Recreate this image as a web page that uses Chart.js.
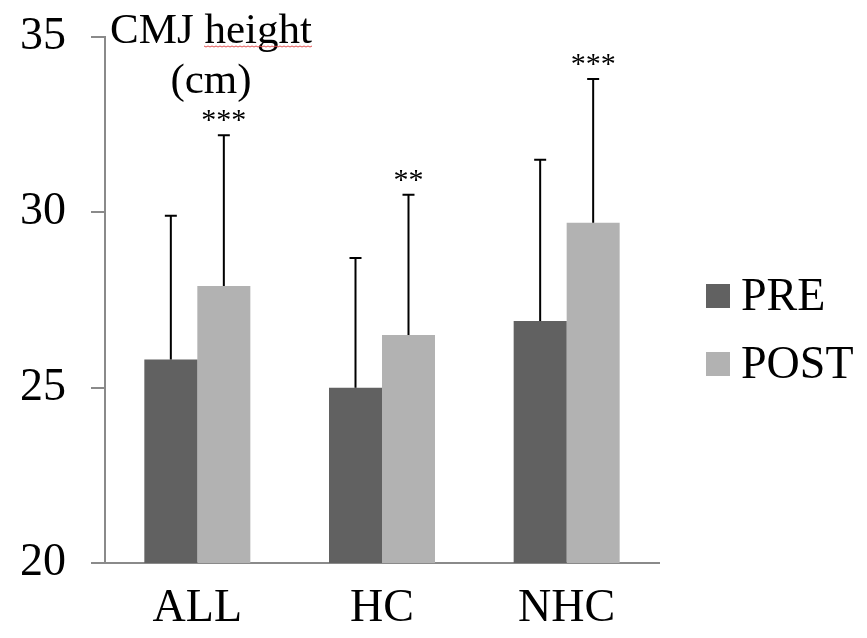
<!DOCTYPE html>
<html>
<head>
<meta charset="utf-8">
<title>CMJ height</title>
<script src="https://cdn.jsdelivr.net/npm/chart.js@4.4.1/dist/chart.umd.min.js"></script>
<style>
  html, body { margin: 0; padding: 0; background: #fff; }
  #wrap { width: 867px; height: 638px; position: relative; }
</style>
</head>
<body>
<div id="wrap"><canvas id="chart"></canvas></div>
<script>
/* ---------- data ---------- */
const groups = ["ALL", "HC", "NHC"];
const seriesNames = ["PRE", "POST"];
const preMean = [25.8, 25.0, 26.9];
const postMean = [27.9, 26.5, 29.7];
const preSD = [4.1, 3.7, 4.6];
const postSD = [4.3, 4.0, 4.1];
const postStars = ["***", "**", "***"];
const yTicks = [20, 25, 30, 35];

const FONT = '"Liberation Serif", "Times New Roman", serif';
const PRE_COLOR = "#616161";
const POST_COLOR = "#b2b2b2";
const AXIS_COLOR = "#8a8a8a";

/* ---------- plugin: error bars, stars, title, legend ---------- */
const extras = {
    id: "extras",
    afterDatasetsDraw(chart) {
        const ctx = chart.ctx;
        const y = chart.scales.y;
        const sds = [preSD, postSD];

        ctx.save();
        ctx.strokeStyle = "#000";
        ctx.lineWidth = 2;
        chart.data.datasets.forEach((ds, di) => {
            const meta = chart.getDatasetMeta(di);
            meta.data.forEach((bar, i) => {
                const top = y.getPixelForValue(ds.data[i] + sds[di][i]);
                ctx.beginPath();
                ctx.moveTo(bar.x, bar.y);
                ctx.lineTo(bar.x, top);
                ctx.moveTo(bar.x - 6, top);
                ctx.lineTo(bar.x + 6, top);
                ctx.stroke();

                // significance stars above POST bars
                if (di === 1) {
                    ctx.fillStyle = "#000";
                    ctx.font = "30px " + FONT;
                    ctx.textAlign = "center";
                    ctx.textBaseline = "middle";
                    ctx.fillText(postStars[i], bar.x, top - 14);
                }
            });
        });
        ctx.restore();
    },
    afterDraw(chart) {
        const ctx = chart.ctx;
        ctx.save();

        // axis title, top left
        ctx.fillStyle = "#000";
        ctx.font = "43px " + FONT;
        ctx.textAlign = "center";
        ctx.textBaseline = "alphabetic";
        ctx.fillText("CMJ height", 211, 43);
        ctx.fillText("(cm)", 211, 93);

        // red spell-check squiggle under "height"
        ctx.strokeStyle = "#e05050";
        ctx.lineWidth = 1;
        ctx.beginPath();
        for (let x = 204; x <= 312; x += 2) {
            const yy = 46 + ((x / 2) % 2 === 0 ? 0 : 1);
            if (x === 204) ctx.moveTo(x, yy); else ctx.lineTo(x, yy);
        }
        ctx.stroke();

        // legend on the right
        const colors = [PRE_COLOR, POST_COLOR];
        const rows = [296, 364];
        ctx.font = "46px " + FONT;
        ctx.textAlign = "left";
        ctx.textBaseline = "middle";
        seriesNames.forEach((name, i) => {
            ctx.fillStyle = colors[i];
            ctx.fillRect(706, rows[i] - 12, 24, 24);
            ctx.fillStyle = "#000";
            ctx.fillText(name, 741, rows[i] + 2);
        });

        ctx.restore();
    }
};

/* ---------- chart ---------- */
new Chart(document.getElementById("chart"), {
    type: "bar",
    data: {
        labels: groups,
        datasets: [
            { label: seriesNames[0], data: preMean, backgroundColor: PRE_COLOR },
            { label: seriesNames[1], data: postMean, backgroundColor: POST_COLOR }
        ]
    },
    options: {
        responsive: true,
        maintainAspectRatio: false,
        animation: false,
        layout: { padding: { top: 37, right: 208, left: 0, bottom: 0 } },
        datasets: { bar: { categoryPercentage: 0.574, barPercentage: 1.0 } },
        plugins: {
            legend: { display: false },
            tooltip: { enabled: false }
        },
        scales: {
            x: {
                grid: { display: false },
                border: { display: true, color: AXIS_COLOR, width: 2 },
                ticks: { color: "#000", font: { family: FONT, size: 46 }, padding: 10 },
                afterFit: (s) => { s.height = 75; }
            },
            y: {
                min: 20,
                max: 35,
                afterBuildTicks: (s) => { s.ticks = yTicks.map(v => ({ value: v })); },
                grid: {
                    drawOnChartArea: false,
                    drawTicks: true,
                    tickLength: 14,
                    color: AXIS_COLOR,
                    lineWidth: 2
                },
                border: { display: true, color: AXIS_COLOR, width: 2 },
                ticks: { color: "#000", font: { family: FONT, size: 46, lineHeight: 0.5 }, padding: 25 },
                afterFit: (s) => { s.width = 105; }
            }
        }
    },
    plugins: [extras]
});
</script>
</body>
</html>
